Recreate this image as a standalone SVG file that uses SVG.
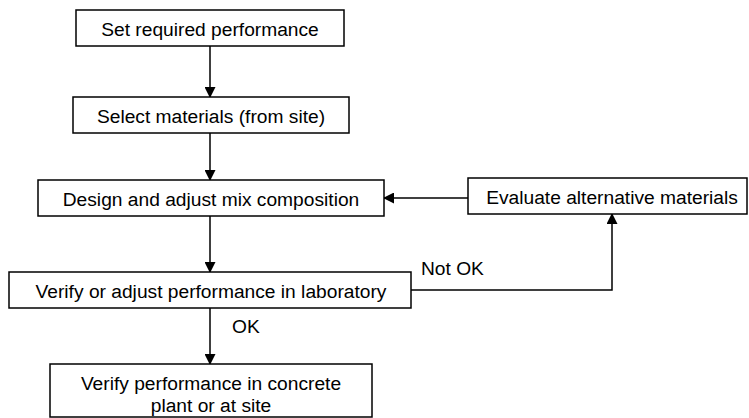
<svg xmlns="http://www.w3.org/2000/svg" width="749" height="418" viewBox="0 0 749 418">
<style>
.box{fill:#fff;stroke:#000;stroke-width:1.5}
.t{font-family:"Liberation Sans",Arial,sans-serif;font-size:19.2px;fill:#000;text-anchor:middle}
.l{font-family:"Liberation Sans",Arial,sans-serif;font-size:19.2px;fill:#000}
.c{fill:none;stroke:#000;stroke-width:1.5}
</style>
<defs>
<marker id="ah" markerWidth="11" markerHeight="11" refX="10" refY="5.5" orient="auto" markerUnits="userSpaceOnUse">
<path d="M0,0 L11,5.5 L0,11 Z" fill="#000"/>
</marker>
</defs>
<rect width="749" height="418" fill="#fff"/>
<g id="connectors">
<line class="c" x1="210" y1="46" x2="210" y2="97" marker-end="url(#ah)"/>
<line class="c" x1="210" y1="133" x2="210" y2="180" marker-end="url(#ah)"/>
<line class="c" x1="468" y1="198" x2="384" y2="198" marker-end="url(#ah)"/>
<line class="c" x1="210" y1="216" x2="210" y2="272" marker-end="url(#ah)"/>
<polyline class="c" points="411,290 612,290 612,214" marker-end="url(#ah)"/>
<line class="c" x1="210" y1="308" x2="210" y2="364" marker-end="url(#ah)"/>
<text class="l" x="421" y="275">Not OK</text>
<text class="l" x="232" y="333">OK</text>
</g>
<g id="n1"><rect class="box" x="76" y="10" width="268" height="36"/><text class="t" x="210" y="36">Set required performance</text></g>
<g id="n2"><rect class="box" x="73" y="97" width="276" height="36"/><text class="t" x="211" y="123">Select materials (from site)</text></g>
<g id="n3"><rect class="box" x="38" y="180" width="346" height="36"/><text class="t" x="211" y="206">Design and adjust mix composition</text></g>
<g id="n4"><rect class="box" x="468" y="178" width="279" height="36"/><text class="t" x="612" y="204">Evaluate alternative materials</text></g>
<g id="n5"><rect class="box" x="9" y="272" width="402" height="36"/><text class="t" x="211" y="298">Verify or adjust performance in laboratory</text></g>
<g id="n6"><rect class="box" x="50" y="364" width="322" height="53"/><text class="t" x="211" y="390">Verify performance in concrete</text><text class="t" x="211" y="412">plant or at site</text></g>
</svg>
